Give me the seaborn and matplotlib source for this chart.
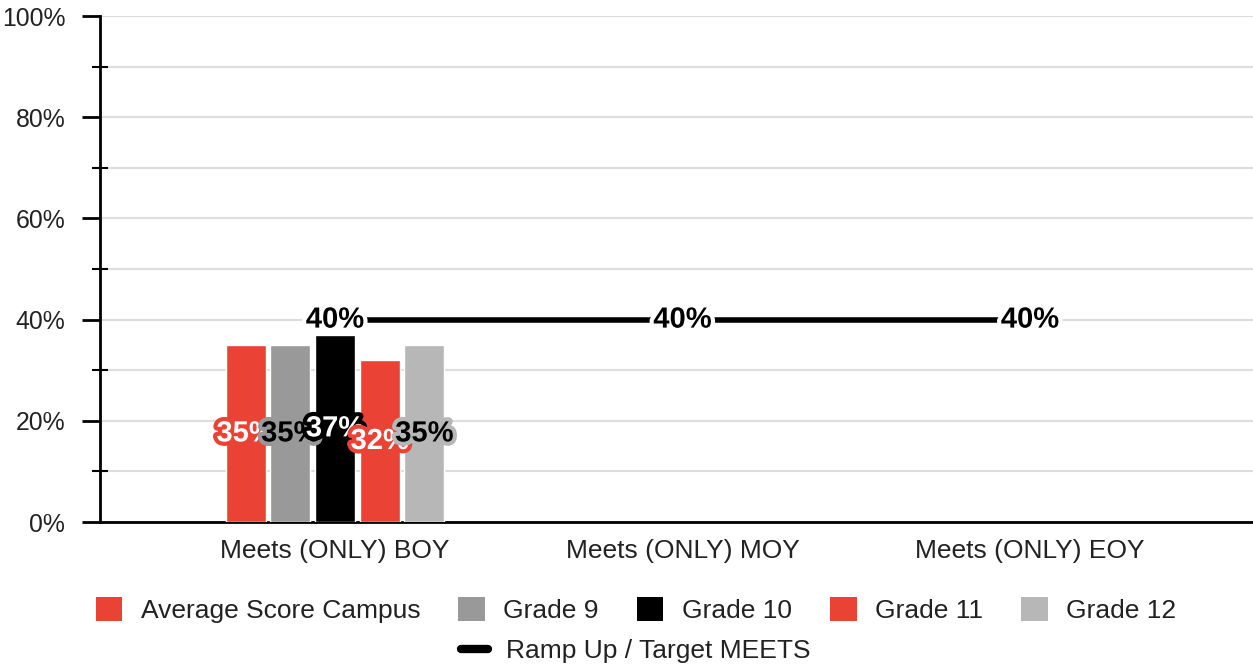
import matplotlib
matplotlib.use("Agg")
import matplotlib.pyplot as plt
import matplotlib.patheffects as pe
from matplotlib.patches import Patch
from matplotlib.lines import Line2D
from matplotlib.ticker import MultipleLocator, FuncFormatter
import seaborn as sns
import pandas as pd

# data
categories = ["Meets (ONLY) BOY", "Meets (ONLY) MOY", "Meets (ONLY) EOY"]
series = ["Average Score Campus", "Grade 9", "Grade 10", "Grade 11", "Grade 12"]
boy_values = [35, 35, 37, 32, 35]
target_values = [40, 40, 40]
target_name = "Ramp Up / Target MEETS"

colors = ["#EA4335", "#999999", "#000000", "#EA4335", "#B7B7B7"]
label_fill = ["white", "black", "white", "white", "black"]

df = pd.DataFrame({"period": [categories[0]] * len(series),
                   "series": series, "value": boy_values})
target_df = pd.DataFrame({"period": categories, "value": target_values})

sns.set_theme(style="white")
plt.rcParams["font.family"] = ["Liberation Sans", "DejaVu Sans"]

fig = plt.figure(figsize=(12.53, 6.68), dpi=100)
ax = fig.add_axes([100 / 1253, 1 - 522 / 668, 1 - 100 / 1253, (522 - 16) / 668])

sns.barplot(data=df, x="period", y="value", hue="series", order=categories,
            hue_order=series, palette=colors, width=0.643, gap=0.1,
            saturation=1, legend=False, ax=ax, zorder=3)

# value labels in the middle of each bar (they overlap, as in the source)
for cont, fc, ec in zip(ax.containers, label_fill, colors):
    txts = ax.bar_label(cont, labels=[f"{v:.0f}%" for v in cont.datavalues],
                        label_type="center", fontsize=21, fontweight="bold",
                        color=fc, zorder=5)
    for t in txts:
        t.set_path_effects([pe.withStroke(linewidth=6, foreground=ec)])

# target line
sns.lineplot(data=target_df, x="period", y="value", color="black",
             linewidth=4, ax=ax, zorder=4, sort=False)
for i, v in enumerate(target_values):
    ax.text(i, v, f"{v:.0f}%", ha="center", va="center", fontsize=21,
            fontweight="bold", color="black", zorder=6,
            path_effects=[pe.withStroke(linewidth=6, foreground="white")])

ax.set_xlim(-(335 - 100) / 347.5, 2 + (1253 - 1030) / 347.5)
ax.set_ylim(0, 100)
ax.yaxis.set_major_locator(MultipleLocator(20))
ax.yaxis.set_minor_locator(MultipleLocator(10))
ax.yaxis.set_major_formatter(FuncFormatter(lambda x, p: f"{x:.0f}%"))
ax.grid(True, which="both", axis="y", color="#DDDDDD", linewidth=1.5, zorder=0)
ax.set_axisbelow(True)

for s in ["top", "right"]:
    ax.spines[s].set_visible(False)
for s in ["left", "bottom"]:
    ax.spines[s].set_color("black")
    ax.spines[s].set_linewidth(2)

ax.tick_params(axis="y", which="major", direction="out", length=13, width=2,
               color="black", labelsize=17.8, labelcolor="#222222", pad=12, left=True)
ax.tick_params(axis="y", which="minor", direction="inout", length=12, width=1.5,
               color="black", left=True)
ax.tick_params(axis="x", length=0, labelsize=19, labelcolor="#222222", pad=12)
ax.set_xlabel("")
ax.set_ylabel("")

handles = [Patch(facecolor=c, edgecolor="none", label=s) for c, s in zip(colors, series)]
fig.legend(handles=handles, loc="center", bbox_to_anchor=(636 / 1253, 1 - 610 / 668),
           ncol=5, frameon=False, fontsize=19, handlelength=1.0, handleheight=1.0,
           handletextpad=0.7, columnspacing=1.45, labelcolor="#222222",
           borderpad=0, borderaxespad=0)
line_handle = Line2D([0], [0], color="black", linewidth=6, label=target_name)
fig.legend(handles=[line_handle], loc="center", bbox_to_anchor=(636 / 1253, 1 - 651 / 668),
           frameon=False, fontsize=19, handlelength=1.0, handletextpad=0.7,
           labelcolor="#222222", borderpad=0, borderaxespad=0)

fig.savefig("out.png", dpi=100)
